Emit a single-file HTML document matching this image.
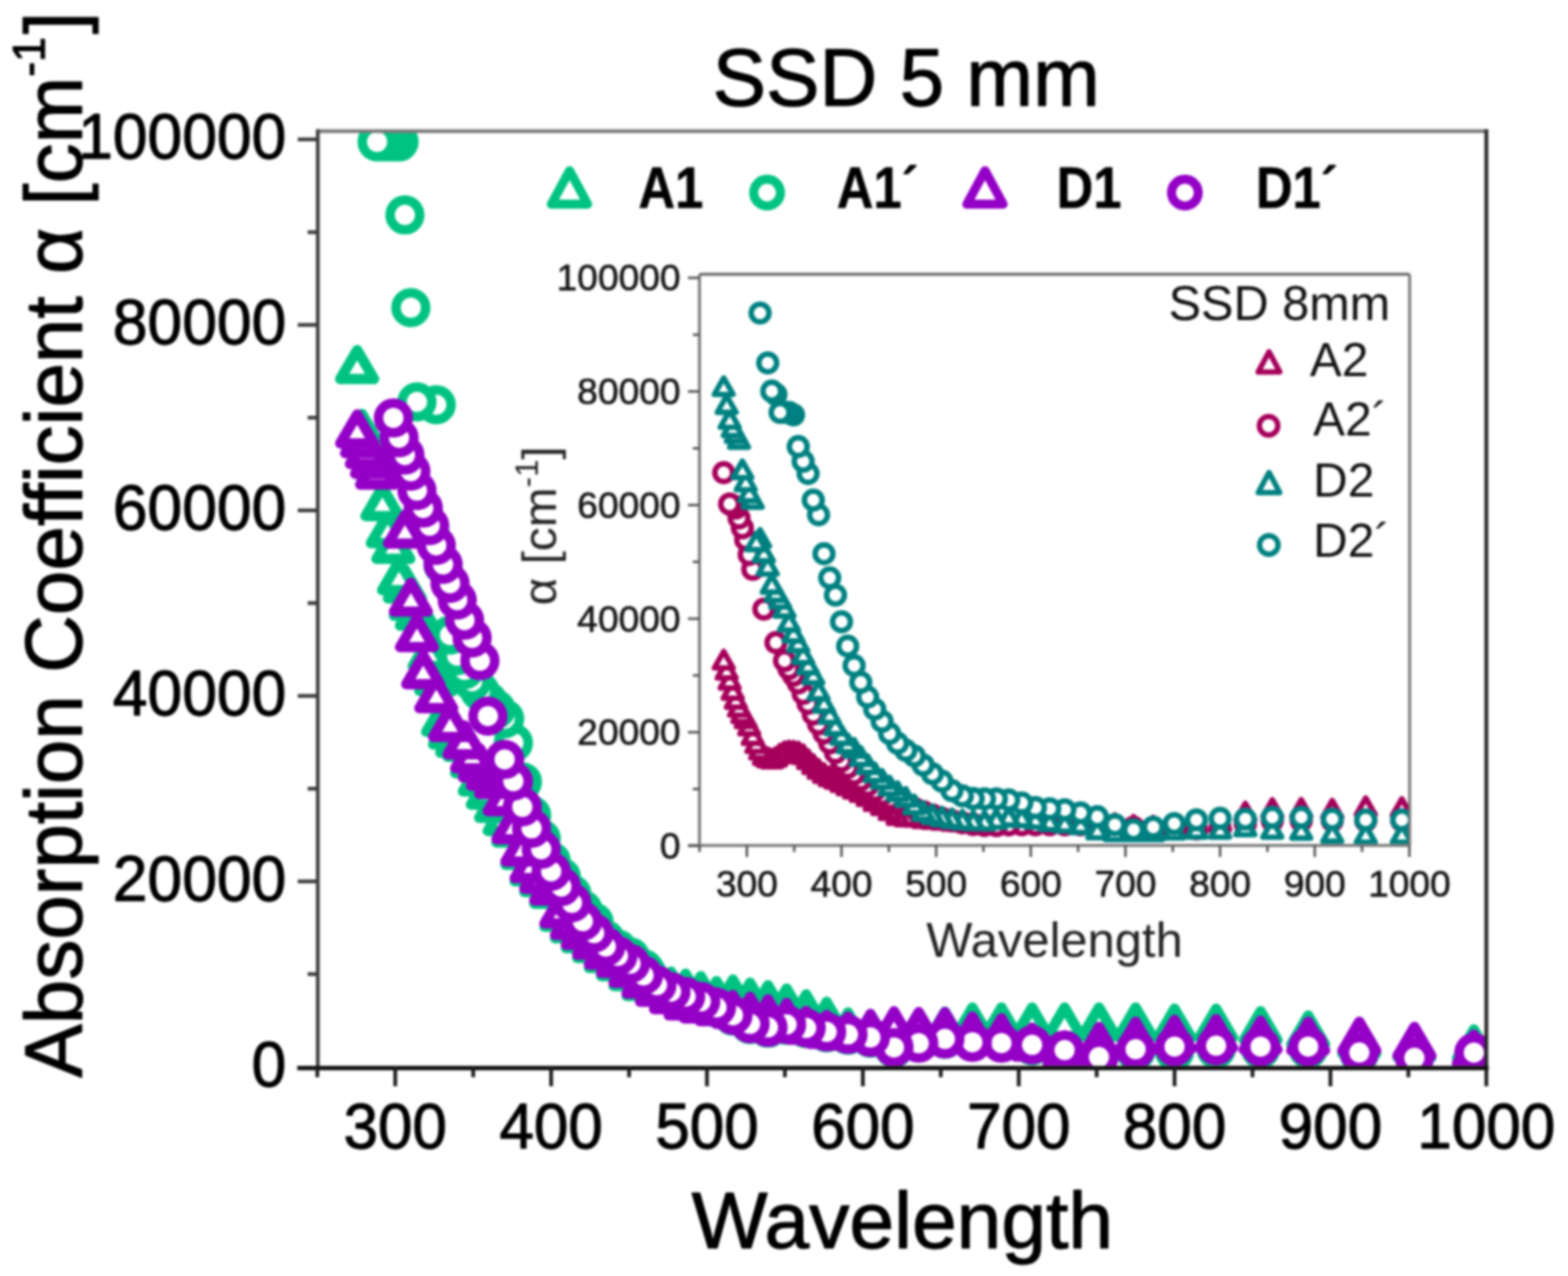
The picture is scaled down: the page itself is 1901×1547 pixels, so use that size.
<!DOCTYPE html>
<html><head><meta charset="utf-8"><title>SSD 5 mm</title><style>html,body{margin:0;padding:0;background:#fff;}body{width:1901px;height:1547px;overflow:hidden;}svg{display:block;filter:blur(1.4px);}</style></head><body>
<svg width="1901" height="1547" viewBox="0 0 1901 1547">
<rect width="1901" height="1547" fill="#fff"/>
<defs><clipPath id="cm"><rect x="386" y="160" width="1414" height="1132"/></clipPath><clipPath id="ci"><rect x="849" y="333.5" width="859" height="690"/></clipPath></defs>
<g clip-path="url(#cm)">
<g fill="#fff" stroke="#00c382" stroke-width="12.5" stroke-linejoin="round"><path d="M1786.9,1248.1L1807.4,1283.1L1766.4,1283.1Z"/><path d="M1714.8,1247.1L1735.3,1282.1L1694.3,1282.1Z"/><path d="M1648.0,1242.5L1668.5,1277.5L1627.5,1277.5Z"/><path d="M1586.0,1231.2L1606.5,1266.2L1565.5,1266.2Z"/><path d="M1528.3,1226.0L1548.8,1261.0L1507.8,1261.0Z"/><path d="M1474.4,1222.9L1494.9,1257.9L1453.9,1257.9Z"/><path d="M1424.0,1222.9L1444.5,1257.9L1403.5,1257.9Z"/><path d="M1376.8,1221.5L1397.3,1256.5L1356.3,1256.5Z"/><path d="M1332.4,1221.5L1352.9,1256.5L1311.9,1256.5Z"/><path d="M1290.7,1221.5L1311.2,1256.5L1270.2,1256.5Z"/><path d="M1251.3,1221.5L1271.8,1256.5L1230.8,1256.5Z"/><path d="M1214.1,1221.5L1234.6,1256.5L1193.6,1256.5Z"/><path d="M1178.9,1221.5L1199.4,1256.5L1158.4,1256.5Z"/><path d="M1145.6,1226.5L1166.1,1261.5L1125.1,1261.5Z"/><path d="M1113.9,1227.5L1134.4,1262.5L1093.4,1262.5Z"/><path d="M1083.9,1228.5L1104.4,1263.5L1063.4,1263.5Z"/><path d="M1055.3,1229.5L1075.8,1264.5L1034.8,1264.5Z"/><path d="M1028.1,1227.5L1048.6,1262.5L1007.6,1262.5Z"/><path d="M1002.2,1214.6L1022.7,1249.6L981.7,1249.6Z"/><path d="M977.4,1205.6L997.9,1240.6L956.9,1240.6Z"/><path d="M953.7,1198.5L974.2,1233.5L933.2,1233.5Z"/><path d="M931.1,1194.5L951.6,1229.5L910.6,1229.5Z"/><path d="M909.4,1191.4L929.9,1226.4L888.9,1226.4Z"/><path d="M888.6,1187.6L909.1,1222.6L868.1,1222.6Z"/><path d="M868.7,1189.5L889.2,1224.5L848.2,1224.5Z"/><path d="M849.6,1183.5L870.1,1218.5L829.1,1218.5Z"/><path d="M831.2,1180.5L851.7,1215.5L810.7,1215.5Z"/><path d="M813.5,1178.0L834.0,1213.0L793.0,1213.0Z"/><path d="M796.5,1166.5L817.0,1201.5L776.0,1201.5Z"/><path d="M780.2,1172.4L800.7,1207.4L759.7,1207.4Z"/><path d="M764.4,1160.4L784.9,1195.4L743.9,1195.4Z"/><path d="M749.2,1148.4L769.7,1183.4L728.7,1183.4Z"/><path d="M734.5,1138.5L755.0,1173.5L714.0,1173.5Z"/><path d="M720.3,1126.5L740.8,1161.5L699.8,1161.5Z"/><path d="M706.6,1114.5L727.1,1149.5L686.1,1149.5Z"/><path d="M693.4,1102.5L713.9,1137.5L672.9,1137.5Z"/><path d="M680.6,1088.5L701.1,1123.5L660.1,1123.5Z"/><path d="M668.2,1060.7L688.7,1095.7L647.7,1095.7Z"/><path d="M656.2,1046.5L676.7,1081.5L635.7,1081.5Z"/><path d="M644.5,1033.6L665.0,1068.6L624.0,1068.6Z"/><path d="M633.3,1013.5L653.8,1048.5L612.8,1048.5Z"/><path d="M622.4,986.4L642.9,1021.4L601.9,1021.4Z"/><path d="M611.8,972.4L632.3,1007.4L591.3,1007.4Z"/><path d="M601.5,956.5L622.0,991.5L581.0,991.5Z"/><path d="M591.5,940.5L612.0,975.5L571.0,975.5Z"/><path d="M581.8,924.5L602.3,959.5L561.3,959.5Z"/><path d="M572.4,902.4L592.9,937.4L551.9,937.4Z"/><path d="M563.2,882.5L583.7,917.5L542.7,917.5Z"/><path d="M554.3,877.5L574.8,912.5L533.8,912.5Z"/><path d="M545.6,867.5L566.1,902.5L525.1,902.5Z"/><path d="M537.2,852.2L557.7,887.2L516.7,887.2Z"/><path d="M528.9,802.7L549.4,837.7L508.4,837.7Z"/><path d="M520.9,772.6L541.4,807.6L500.4,807.6Z"/><path d="M513.1,747.6L533.6,782.6L492.6,782.6Z"/><path d="M505.5,723.5L526.0,758.5L485.0,758.5Z"/><path d="M498.1,711.5L518.6,746.5L477.6,746.5Z"/><path d="M490.9,690.5L511.4,725.5L470.4,725.5Z"/><path d="M483.8,680.5L504.3,715.5L463.3,715.5Z"/><path d="M476.9,642.6L497.4,677.6L456.4,677.6Z"/><path d="M470.2,623.5L490.7,658.5L449.7,658.5Z"/><path d="M463.6,590.7L484.1,625.7L443.1,625.7Z"/><path d="M457.2,542.7L477.7,577.7L436.7,577.7Z"/><path d="M451.0,527.4L471.5,562.4L430.5,562.4Z"/><path d="M444.8,512.6L465.3,547.6L424.3,547.6Z"/><path d="M438.9,501.9L459.4,536.9L418.4,536.9Z"/><path d="M433.0,424.5L453.5,459.5L412.5,459.5Z"/></g>
<g fill="#fff" stroke="#00c382" stroke-width="11.5" stroke-linejoin="round"><circle cx="1786.9" cy="1278.0" r="18.0"/><circle cx="1714.8" cy="1282.0" r="18.0"/><circle cx="1648.0" cy="1278.0" r="18.0"/><circle cx="1586.0" cy="1272.0" r="18.0"/><circle cx="1528.3" cy="1272.0" r="18.0"/><circle cx="1474.4" cy="1272.0" r="18.0"/><circle cx="1424.0" cy="1275.0" r="18.0"/><circle cx="1376.8" cy="1275.0" r="18.0"/><circle cx="1332.4" cy="1280.0" r="18.0"/><circle cx="1290.7" cy="1274.1" r="18.0"/><circle cx="1251.3" cy="1268.0" r="18.0"/><circle cx="1214.1" cy="1264.0" r="18.0"/><circle cx="1178.9" cy="1262.0" r="18.0"/><circle cx="1145.6" cy="1260.0" r="18.0"/><circle cx="1113.9" cy="1262.0" r="18.0"/><circle cx="1083.9" cy="1270.9" r="18.0"/><circle cx="1055.3" cy="1258.8" r="18.0"/><circle cx="1028.1" cy="1255.1" r="18.0"/><circle cx="1002.2" cy="1252.1" r="18.0"/><circle cx="977.4" cy="1247.2" r="18.0"/><circle cx="953.7" cy="1243.1" r="18.0"/><circle cx="931.1" cy="1246.6" r="18.0"/><circle cx="909.4" cy="1242.3" r="18.0"/><circle cx="888.6" cy="1231.9" r="18.0"/><circle cx="868.7" cy="1222.2" r="18.0"/><circle cx="849.6" cy="1215.0" r="18.0"/><circle cx="831.2" cy="1209.2" r="18.0"/><circle cx="813.5" cy="1203.1" r="18.0"/><circle cx="796.5" cy="1195.2" r="18.0"/><circle cx="780.2" cy="1174.4" r="18.0"/><circle cx="764.4" cy="1160.2" r="18.0"/><circle cx="749.2" cy="1150.8" r="18.0"/><circle cx="734.5" cy="1139.5" r="18.0"/><circle cx="720.3" cy="1118.0" r="18.0"/><circle cx="706.6" cy="1102.7" r="18.0"/><circle cx="693.4" cy="1084.0" r="18.0"/><circle cx="680.6" cy="1063.2" r="18.0"/><circle cx="668.2" cy="1043.9" r="18.0"/><circle cx="656.2" cy="1016.8" r="18.0"/><circle cx="644.5" cy="988.3" r="18.0"/><circle cx="633.3" cy="947.9" r="18.0"/><circle cx="622.4" cy="900.7" r="18.0"/><circle cx="611.8" cy="871.4" r="18.0"/><circle cx="601.5" cy="860.0" r="18.0"/><circle cx="591.5" cy="850.0" r="18.0"/><circle cx="581.8" cy="838.0" r="18.0"/><circle cx="572.4" cy="825.9" r="18.0"/><circle cx="563.2" cy="812.0" r="18.0"/><circle cx="554.3" cy="794.9" r="18.0"/><circle cx="545.6" cy="769.9" r="18.0"/><circle cx="537.2" cy="685.3" r="18.0"/><circle cx="528.9" cy="490.7" r="18.0"/><circle cx="520.9" cy="641.1" r="18.0"/><circle cx="513.1" cy="618.3" r="18.0"/><circle cx="505.5" cy="487.2" r="18.0"/><circle cx="498.1" cy="373.0" r="18.0"/><circle cx="490.9" cy="260.6" r="18.0"/><circle cx="483.8" cy="172.1" r="18.0"/><circle cx="476.9" cy="172.0" r="18.0"/><circle cx="470.2" cy="172.0" r="18.0"/><circle cx="463.6" cy="172.0" r="18.0"/><circle cx="457.2" cy="172.0" r="18.0"/></g>
<g fill="#fff" stroke="#9400c6" stroke-width="12.5" stroke-linejoin="round"><path d="M1786.9,1254.4L1807.4,1289.4L1766.4,1289.4Z"/><path d="M1714.8,1245.0L1735.3,1280.0L1694.3,1280.0Z"/><path d="M1648.0,1238.7L1668.5,1273.7L1627.5,1273.7Z"/><path d="M1586.0,1238.7L1606.5,1273.7L1565.5,1273.7Z"/><path d="M1528.3,1237.6L1548.8,1272.6L1507.8,1272.6Z"/><path d="M1474.4,1235.5L1494.9,1270.5L1453.9,1270.5Z"/><path d="M1424.0,1236.5L1444.5,1271.5L1403.5,1271.5Z"/><path d="M1376.8,1238.7L1397.3,1273.7L1356.3,1273.7Z"/><path d="M1332.4,1245.0L1352.9,1280.0L1311.9,1280.0Z"/><path d="M1290.7,1255.5L1311.2,1290.5L1270.2,1290.5Z"/><path d="M1251.3,1245.9L1271.8,1280.9L1230.8,1280.9Z"/><path d="M1214.1,1234.5L1234.6,1269.5L1193.6,1269.5Z"/><path d="M1178.9,1232.4L1199.4,1267.4L1158.4,1267.4Z"/><path d="M1145.6,1227.1L1166.1,1262.1L1125.1,1262.1Z"/><path d="M1113.9,1227.1L1134.4,1262.1L1093.4,1262.1Z"/><path d="M1083.9,1226.1L1104.4,1261.1L1063.4,1261.1Z"/><path d="M1055.3,1229.3L1075.8,1264.3L1034.8,1264.3Z"/><path d="M1028.1,1232.5L1048.6,1267.5L1007.6,1267.5Z"/><path d="M1002.2,1230.5L1022.7,1265.5L981.7,1265.5Z"/><path d="M977.4,1225.6L997.9,1260.6L956.9,1260.6Z"/><path d="M953.7,1215.9L974.2,1250.9L933.2,1250.9Z"/><path d="M931.1,1211.5L951.6,1246.5L910.6,1246.5Z"/><path d="M909.4,1208.6L929.9,1243.6L888.9,1243.6Z"/><path d="M888.6,1206.3L909.1,1241.3L868.1,1241.3Z"/><path d="M868.7,1203.0L889.2,1238.0L848.2,1238.0Z"/><path d="M849.6,1199.7L870.1,1234.7L829.1,1234.7Z"/><path d="M831.2,1196.1L851.7,1231.1L810.7,1231.1Z"/><path d="M813.5,1188.5L834.0,1223.5L793.0,1223.5Z"/><path d="M796.5,1179.5L817.0,1214.5L776.0,1214.5Z"/><path d="M780.2,1169.5L800.7,1204.5L759.7,1204.5Z"/><path d="M764.4,1156.5L784.9,1191.5L743.9,1191.5Z"/><path d="M749.2,1144.6L769.7,1179.6L728.7,1179.6Z"/><path d="M734.5,1134.5L755.0,1169.5L714.0,1169.5Z"/><path d="M720.3,1122.5L740.8,1157.5L699.8,1157.5Z"/><path d="M706.6,1110.5L727.1,1145.5L686.1,1145.5Z"/><path d="M693.4,1098.6L713.9,1133.6L672.9,1133.6Z"/><path d="M680.6,1084.6L701.1,1119.6L660.1,1119.6Z"/><path d="M668.2,1056.7L688.7,1091.7L647.7,1091.7Z"/><path d="M656.2,1042.5L676.7,1077.5L635.7,1077.5Z"/><path d="M644.5,1029.6L665.0,1064.6L624.0,1064.6Z"/><path d="M633.3,1009.5L653.8,1044.5L612.8,1044.5Z"/><path d="M622.4,982.4L642.9,1017.4L601.9,1017.4Z"/><path d="M611.8,948.4L632.3,983.4L591.3,983.4Z"/><path d="M601.5,927.5L622.0,962.5L581.0,962.5Z"/><path d="M591.5,917.5L612.0,952.5L571.0,952.5Z"/><path d="M581.8,907.5L602.3,942.5L561.3,942.5Z"/><path d="M572.4,896.4L592.9,931.4L551.9,931.4Z"/><path d="M563.2,879.5L583.7,914.5L542.7,914.5Z"/><path d="M545.6,858.5L566.1,893.5L525.1,893.5Z"/><path d="M528.9,823.6L549.4,858.6L508.4,858.6Z"/><path d="M513.1,794.5L533.6,829.5L492.6,829.5Z"/><path d="M505.5,749.6L526.0,784.6L485.0,784.6Z"/><path d="M498.1,706.5L518.6,741.5L477.6,741.5Z"/><path d="M490.9,624.1L511.4,659.1L470.4,659.1Z"/><path d="M483.8,542.6L504.3,577.6L463.3,577.6Z"/><path d="M476.9,542.5L497.4,577.5L456.4,577.5Z"/><path d="M470.2,545.5L490.7,580.5L449.7,580.5Z"/><path d="M463.6,547.5L484.1,582.5L443.1,582.5Z"/><path d="M457.2,552.5L477.7,587.5L436.7,587.5Z"/><path d="M451.0,539.4L471.5,574.4L430.5,574.4Z"/><path d="M444.8,527.6L465.3,562.6L424.3,562.6Z"/><path d="M438.9,514.4L459.4,549.4L418.4,549.4Z"/><path d="M433.0,502.5L453.5,537.5L412.5,537.5Z"/></g>
<g fill="#fff" stroke="#9400c6" stroke-width="11.5" stroke-linejoin="round"><circle cx="1786.9" cy="1276.2" r="18.0"/><circle cx="1714.8" cy="1282.6" r="18.0"/><circle cx="1648.0" cy="1276.1" r="18.0"/><circle cx="1586.0" cy="1268.9" r="18.0"/><circle cx="1528.3" cy="1268.9" r="18.0"/><circle cx="1474.4" cy="1267.8" r="18.0"/><circle cx="1424.0" cy="1268.9" r="18.0"/><circle cx="1376.8" cy="1272.1" r="18.0"/><circle cx="1332.4" cy="1281.6" r="18.0"/><circle cx="1290.7" cy="1273.1" r="18.0"/><circle cx="1251.3" cy="1266.8" r="18.0"/><circle cx="1214.1" cy="1264.7" r="18.0"/><circle cx="1178.9" cy="1263.7" r="18.0"/><circle cx="1145.6" cy="1259.6" r="18.0"/><circle cx="1113.9" cy="1264.8" r="18.0"/><circle cx="1083.9" cy="1269.9" r="18.0"/><circle cx="1055.3" cy="1257.8" r="18.0"/><circle cx="1028.1" cy="1254.1" r="18.0"/><circle cx="1002.2" cy="1251.1" r="18.0"/><circle cx="977.4" cy="1246.3" r="18.0"/><circle cx="953.7" cy="1242.1" r="18.0"/><circle cx="931.1" cy="1245.6" r="18.0"/><circle cx="909.4" cy="1241.3" r="18.0"/><circle cx="888.6" cy="1230.9" r="18.0"/><circle cx="868.7" cy="1221.3" r="18.0"/><circle cx="849.6" cy="1214.0" r="18.0"/><circle cx="831.2" cy="1208.2" r="18.0"/><circle cx="813.5" cy="1202.2" r="18.0"/><circle cx="796.5" cy="1194.3" r="18.0"/><circle cx="780.2" cy="1182.5" r="18.0"/><circle cx="764.4" cy="1168.3" r="18.0"/><circle cx="749.2" cy="1158.8" r="18.0"/><circle cx="734.5" cy="1147.6" r="18.0"/><circle cx="720.3" cy="1131.3" r="18.0"/><circle cx="706.6" cy="1116.8" r="18.0"/><circle cx="693.4" cy="1094.5" r="18.0"/><circle cx="680.6" cy="1074.9" r="18.0"/><circle cx="668.2" cy="1056.4" r="18.0"/><circle cx="656.2" cy="1029.7" r="18.0"/><circle cx="644.5" cy="1004.3" r="18.0"/><circle cx="633.3" cy="978.3" r="18.0"/><circle cx="622.4" cy="947.0" r="18.0"/><circle cx="611.8" cy="920.7" r="18.0"/><circle cx="591.5" cy="868.2" r="18.0"/><circle cx="581.8" cy="801.1" r="18.0"/><circle cx="572.4" cy="773.4" r="18.0"/><circle cx="563.2" cy="751.9" r="18.0"/><circle cx="554.3" cy="727.5" r="18.0"/><circle cx="545.6" cy="707.2" r="18.0"/><circle cx="537.2" cy="684.3" r="18.0"/><circle cx="528.9" cy="661.2" r="18.0"/><circle cx="520.9" cy="637.3" r="18.0"/><circle cx="513.1" cy="615.9" r="18.0"/><circle cx="505.5" cy="594.8" r="18.0"/><circle cx="498.1" cy="571.3" r="18.0"/><circle cx="490.9" cy="551.7" r="18.0"/><circle cx="483.8" cy="530.7" r="18.0"/><circle cx="476.9" cy="506.7" r="18.0"/></g>
</g>
<g fill="none" stroke-linecap="square">
<line x1="385.3" y1="159" x2="1802" y2="159" stroke="#7a7a7a" stroke-width="4.5"/>
<line x1="1802" y1="159" x2="1802" y2="1294.8" stroke="#262626" stroke-width="4.6"/>
<line x1="385.3" y1="159" x2="385.3" y2="1294.8" stroke="#404040" stroke-width="4.6"/>
<line x1="363" y1="1294.8" x2="1802" y2="1294.8" stroke="#0a0a0a" stroke-width="5.2"/>
</g>
<g stroke="#3a3a3a" stroke-width="4.5"><line x1="373" y1="1181.0" x2="385" y2="1181.0"/><line x1="361" y1="1068.6" x2="385" y2="1068.6"/><line x1="373" y1="956.2" x2="385" y2="956.2"/><line x1="361" y1="843.7" x2="385" y2="843.7"/><line x1="373" y1="731.2" x2="385" y2="731.2"/><line x1="361" y1="618.8" x2="385" y2="618.8"/><line x1="373" y1="506.4" x2="385" y2="506.4"/><line x1="361" y1="393.9" x2="385" y2="393.9"/><line x1="373" y1="281.5" x2="385" y2="281.5"/><line x1="361" y1="169.0" x2="385" y2="169.0"/></g>
<g stroke="#1a1a1a" stroke-width="4.5"><line x1="384.7" y1="1294" x2="384.7" y2="1306"/><line x1="479.2" y1="1294" x2="479.2" y2="1317"/><line x1="573.7" y1="1294" x2="573.7" y2="1306"/><line x1="668.2" y1="1294" x2="668.2" y2="1317"/><line x1="762.7" y1="1294" x2="762.7" y2="1306"/><line x1="857.1" y1="1294" x2="857.1" y2="1317"/><line x1="951.6" y1="1294" x2="951.6" y2="1306"/><line x1="1046.1" y1="1294" x2="1046.1" y2="1317"/><line x1="1140.6" y1="1294" x2="1140.6" y2="1306"/><line x1="1235.1" y1="1294" x2="1235.1" y2="1317"/><line x1="1329.6" y1="1294" x2="1329.6" y2="1306"/><line x1="1424.0" y1="1294" x2="1424.0" y2="1317"/><line x1="1518.5" y1="1294" x2="1518.5" y2="1306"/><line x1="1613.0" y1="1294" x2="1613.0" y2="1317"/><line x1="1707.5" y1="1294" x2="1707.5" y2="1306"/><line x1="1802.0" y1="1294" x2="1802.0" y2="1317"/></g>
<g font-family='"Liberation Sans", Arial, Helvetica, sans-serif' stroke="#000" stroke-width="1.3" stroke-linejoin="round">
<text transform="translate(347.0,1316.5) scale(0.964,1)" text-anchor="end" font-size="78.4" fill="#000">0</text>
<text transform="translate(347.0,1091.6) scale(0.964,1)" text-anchor="end" font-size="78.4" fill="#000">20000</text>
<text transform="translate(347.0,866.7) scale(0.964,1)" text-anchor="end" font-size="78.4" fill="#000">40000</text>
<text transform="translate(347.0,641.8) scale(0.964,1)" text-anchor="end" font-size="78.4" fill="#000">60000</text>
<text transform="translate(347.0,416.9) scale(0.964,1)" text-anchor="end" font-size="78.4" fill="#000">80000</text>
<text transform="translate(347.0,192.0) scale(0.964,1)" text-anchor="end" font-size="78.4" fill="#000">100000</text>
<text transform="translate(479.2,1391.5) scale(0.964,1)" text-anchor="middle" font-size="78.0" fill="#000">300</text>
<text transform="translate(668.2,1391.5) scale(0.964,1)" text-anchor="middle" font-size="78.0" fill="#000">400</text>
<text transform="translate(857.1,1391.5) scale(0.964,1)" text-anchor="middle" font-size="78.0" fill="#000">500</text>
<text transform="translate(1046.1,1391.5) scale(0.964,1)" text-anchor="middle" font-size="78.0" fill="#000">600</text>
<text transform="translate(1235.1,1391.5) scale(0.964,1)" text-anchor="middle" font-size="78.0" fill="#000">700</text>
<text transform="translate(1424.0,1391.5) scale(0.964,1)" text-anchor="middle" font-size="78.0" fill="#000">800</text>
<text transform="translate(1613.0,1391.5) scale(0.964,1)" text-anchor="middle" font-size="78.0" fill="#000">900</text>
<text transform="translate(1802.0,1391.5) scale(0.964,1)" text-anchor="middle" font-size="78.0" fill="#000">1000</text>
<text transform="translate(1098.7,128.0) scale(0.981,1)" text-anchor="middle" font-size="99" fill="#000">SSD 5 mm</text>
<text transform="translate(1094.0,1513.0) scale(1.005,1)" text-anchor="middle" font-size="97" fill="#000">Wavelength</text>
<text transform="translate(98.5,1306.5) rotate(-90) scale(0.98,1)" font-size="99">Absorption Coefficient α [cm<tspan dy="-45" font-size="55">-1</tspan><tspan dy="45" dx="4">]</tspan></text>
</g>
<g fill="#fff" stroke-width="11" stroke-linejoin="round"><path d="M690.5,206.9L712.5,247.5L668.5,247.5Z" stroke="#00c382"/><circle cx="930" cy="233.5" r="16.2" stroke="#00c382"/><path d="M1194.2,206.9L1216.2,247.5L1172.2,247.5Z" stroke="#9400c6"/><circle cx="1436.5" cy="233.5" r="16.2" stroke="#9400c6"/></g>
<g font-family='"Liberation Sans", Arial, Helvetica, sans-serif' stroke="#000" stroke-width="0.6" stroke-linejoin="round">
<text transform="translate(774.0,252.0) scale(0.885,1)" text-anchor="start" font-size="69.5" font-weight="bold" fill="#000">A1</text>
<text transform="translate(1014.5,252.0) scale(0.885,1)" text-anchor="start" font-size="69.5" font-weight="bold" fill="#000">A1´</text>
<text transform="translate(1281.0,252.0) scale(0.885,1)" text-anchor="start" font-size="69.5" font-weight="bold" fill="#000">D1</text>
<text transform="translate(1522.7,252.0) scale(0.885,1)" text-anchor="start" font-size="69.5" font-weight="bold" fill="#000">D1´</text>
</g>
<rect x="848" y="332.5" width="861" height="692.5" fill="#fff"/>
<g clip-path="url(#ci)">
<g fill="#fff" stroke="#a5005a" stroke-width="6.6" stroke-linejoin="round"><path d="M1699.5,968.5L1710.9,988.5L1688.1,988.5Z"/><path d="M1655.8,967.5L1667.2,987.5L1644.4,987.5Z"/><path d="M1615.2,970.5L1626.6,990.5L1603.8,990.5Z"/><path d="M1577.6,969.5L1589.0,989.5L1566.2,989.5Z"/><path d="M1542.5,969.6L1553.9,989.6L1531.1,989.6Z"/><path d="M1509.8,974.0L1521.2,994.0L1498.4,994.0Z"/><path d="M1479.2,986.0L1490.6,1006.0L1467.8,1006.0Z"/><path d="M1450.5,989.0L1461.9,1009.0L1439.1,1009.0Z"/><path d="M1423.6,991.0L1435.0,1011.0L1412.2,1011.0Z"/><path d="M1398.2,991.0L1409.6,1011.0L1386.8,1011.0Z"/><path d="M1374.3,990.0L1385.7,1010.0L1362.9,1010.0Z"/><path d="M1351.7,988.0L1363.1,1008.0L1340.3,1008.0Z"/><path d="M1330.4,981.0L1341.8,1001.0L1319.0,1001.0Z"/><path d="M1310.1,982.0L1321.5,1002.0L1298.7,1002.0Z"/><path d="M1290.9,983.0L1302.3,1003.0L1279.5,1003.0Z"/><path d="M1272.7,984.0L1284.1,1004.0L1261.3,1004.0Z"/><path d="M1255.3,985.0L1266.7,1005.0L1243.9,1005.0Z"/><path d="M1238.8,986.1L1250.2,1006.1L1227.4,1006.1Z"/><path d="M1223.0,987.1L1234.4,1007.1L1211.6,1007.1Z"/><path d="M1208.0,988.0L1219.4,1008.0L1196.6,1008.0Z"/><path d="M1193.6,987.8L1205.0,1007.8L1182.2,1007.8Z"/><path d="M1179.9,986.8L1191.3,1006.8L1168.5,1006.8Z"/><path d="M1166.7,985.9L1178.1,1005.9L1155.3,1005.9Z"/><path d="M1154.1,985.1L1165.5,1005.1L1142.7,1005.1Z"/><path d="M1142.0,984.0L1153.4,1004.0L1130.6,1004.0Z"/><path d="M1130.4,983.0L1141.8,1003.0L1119.0,1003.0Z"/><path d="M1119.2,982.0L1130.6,1002.0L1107.8,1002.0Z"/><path d="M1108.5,980.1L1119.9,1000.1L1097.1,1000.1Z"/><path d="M1098.2,980.0L1109.6,1000.0L1086.8,1000.0Z"/><path d="M1088.2,978.1L1099.6,998.1L1076.8,998.1Z"/><path d="M1078.6,972.2L1090.0,992.2L1067.2,992.2Z"/><path d="M1069.4,966.2L1080.8,986.2L1058.0,986.2Z"/><path d="M1060.5,961.2L1071.9,981.2L1049.1,981.2Z"/><path d="M1051.9,955.3L1063.3,975.3L1040.5,975.3Z"/><path d="M1043.6,950.3L1055.0,970.3L1032.2,970.3Z"/><path d="M1035.5,946.2L1046.9,966.2L1024.1,966.2Z"/><path d="M1027.7,942.2L1039.1,962.2L1016.3,962.2Z"/><path d="M1020.2,938.2L1031.6,958.2L1008.8,958.2Z"/><path d="M1012.9,934.2L1024.3,954.2L1001.5,954.2Z"/><path d="M1005.9,931.2L1017.3,951.2L994.5,951.2Z"/><path d="M999.0,927.3L1010.4,947.3L987.6,947.3Z"/><path d="M992.4,922.3L1003.8,942.3L981.0,942.3Z"/><path d="M986.0,916.4L997.4,936.4L974.6,936.4Z"/><path d="M979.7,910.4L991.1,930.4L968.3,930.4Z"/><path d="M973.7,904.5L985.1,924.5L962.3,924.5Z"/><path d="M967.8,901.2L979.2,921.2L956.4,921.2Z"/><path d="M962.0,900.1L973.4,920.1L950.6,920.1Z"/><path d="M956.5,900.0L967.9,920.0L945.1,920.0Z"/><path d="M951.1,900.9L962.5,920.9L939.7,920.9Z"/><path d="M945.8,903.7L957.2,923.7L934.4,923.7Z"/><path d="M940.7,907.6L952.1,927.6L929.3,927.6Z"/><path d="M935.7,909.8L947.1,929.8L924.3,929.8Z"/><path d="M930.8,908.2L942.2,928.2L919.4,928.2Z"/><path d="M926.1,905.4L937.5,925.4L914.7,925.4Z"/><path d="M921.5,898.8L932.9,918.8L910.1,918.8Z"/><path d="M917.0,891.0L928.4,911.0L905.6,911.0Z"/><path d="M912.6,881.3L924.0,901.3L901.2,901.3Z"/><path d="M908.3,869.6L919.7,889.6L896.9,889.6Z"/><path d="M904.1,861.0L915.5,881.0L892.7,881.0Z"/><path d="M900.0,854.7L911.4,874.7L888.6,874.7Z"/><path d="M896.0,847.0L907.4,867.0L884.6,867.0Z"/><path d="M892.1,837.4L903.5,857.4L880.7,857.4Z"/><path d="M888.3,826.5L899.7,846.5L876.9,846.5Z"/><path d="M884.6,814.1L896.0,834.1L873.2,834.1Z"/><path d="M881.0,801.9L892.4,821.9L869.6,821.9Z"/><path d="M877.4,789.8L888.8,809.8L866.0,809.8Z"/></g>
<g fill="#fff" stroke="#a5005a" stroke-width="6.6" stroke-linejoin="round"><circle cx="1699.5" cy="995.0" r="10.8"/><circle cx="1655.8" cy="995.0" r="10.8"/><circle cx="1615.2" cy="995.0" r="10.8"/><circle cx="1577.6" cy="995.0" r="10.8"/><circle cx="1542.5" cy="995.1" r="10.8"/><circle cx="1509.8" cy="999.0" r="10.8"/><circle cx="1479.2" cy="1004.0" r="10.8"/><circle cx="1450.5" cy="1005.0" r="10.8"/><circle cx="1423.6" cy="1005.0" r="10.8"/><circle cx="1398.2" cy="1004.0" r="10.8"/><circle cx="1374.3" cy="1003.0" r="10.8"/><circle cx="1351.7" cy="1002.0" r="10.8"/><circle cx="1330.4" cy="1000.0" r="10.8"/><circle cx="1310.1" cy="1000.0" r="10.8"/><circle cx="1290.9" cy="1000.0" r="10.8"/><circle cx="1272.7" cy="1000.0" r="10.8"/><circle cx="1255.3" cy="1000.0" r="10.8"/><circle cx="1238.8" cy="1000.0" r="10.8"/><circle cx="1223.0" cy="1000.1" r="10.8"/><circle cx="1208.0" cy="1001.0" r="10.8"/><circle cx="1193.6" cy="1000.8" r="10.8"/><circle cx="1179.9" cy="999.7" r="10.8"/><circle cx="1166.7" cy="997.6" r="10.8"/><circle cx="1154.1" cy="995.2" r="10.8"/><circle cx="1142.0" cy="992.0" r="10.8"/><circle cx="1130.4" cy="988.1" r="10.8"/><circle cx="1119.2" cy="984.1" r="10.8"/><circle cx="1108.5" cy="980.2" r="10.8"/><circle cx="1098.2" cy="976.1" r="10.8"/><circle cx="1088.2" cy="972.1" r="10.8"/><circle cx="1078.6" cy="968.3" r="10.8"/><circle cx="1069.4" cy="963.2" r="10.8"/><circle cx="1060.5" cy="958.3" r="10.8"/><circle cx="1051.9" cy="952.3" r="10.8"/><circle cx="1043.6" cy="945.5" r="10.8"/><circle cx="1035.5" cy="938.4" r="10.8"/><circle cx="1027.7" cy="930.5" r="10.8"/><circle cx="1020.2" cy="922.5" r="10.8"/><circle cx="1012.9" cy="912.6" r="10.8"/><circle cx="1005.9" cy="900.8" r="10.8"/><circle cx="999.0" cy="888.8" r="10.8"/><circle cx="992.4" cy="877.7" r="10.8"/><circle cx="986.0" cy="865.9" r="10.8"/><circle cx="979.7" cy="852.9" r="10.8"/><circle cx="973.7" cy="840.9" r="10.8"/><circle cx="967.8" cy="828.0" r="10.8"/><circle cx="962.0" cy="818.7" r="10.8"/><circle cx="956.5" cy="810.8" r="10.8"/><circle cx="951.1" cy="801.0" r="10.8"/><circle cx="940.7" cy="779.1" r="10.8"/><circle cx="926.1" cy="738.5" r="10.8"/><circle cx="912.6" cy="690.2" r="10.8"/><circle cx="908.3" cy="672.4" r="10.8"/><circle cx="904.1" cy="654.2" r="10.8"/><circle cx="900.0" cy="640.0" r="10.8"/><circle cx="896.0" cy="628.1" r="10.8"/><circle cx="892.1" cy="616.1" r="10.8"/><circle cx="888.3" cy="613.0" r="10.8"/><circle cx="884.6" cy="611.0" r="10.8"/><circle cx="877.4" cy="573.1" r="10.8"/></g>
<g fill="#fff" stroke="#008080" stroke-width="6.6" stroke-linejoin="round"><path d="M1699.5,1001.0L1710.9,1021.0L1688.1,1021.0Z"/><path d="M1655.8,1001.0L1667.2,1021.0L1644.4,1021.0Z"/><path d="M1615.2,999.9L1626.6,1019.9L1603.8,1019.9Z"/><path d="M1577.6,996.1L1589.0,1016.1L1566.2,1016.1Z"/><path d="M1542.5,995.0L1553.9,1015.0L1531.1,1015.0Z"/><path d="M1509.8,992.0L1521.2,1012.0L1498.4,1012.0Z"/><path d="M1479.2,995.0L1490.6,1015.0L1467.8,1015.0Z"/><path d="M1450.5,995.0L1461.9,1015.0L1439.1,1015.0Z"/><path d="M1423.6,996.0L1435.0,1016.0L1412.2,1016.0Z"/><path d="M1398.2,997.9L1409.6,1017.9L1386.8,1017.9Z"/><path d="M1374.3,998.0L1385.7,1018.0L1362.9,1018.0Z"/><path d="M1351.7,998.0L1363.1,1018.0L1340.3,1018.0Z"/><path d="M1330.4,995.8L1341.8,1015.8L1319.0,1015.8Z"/><path d="M1310.1,989.4L1321.5,1009.4L1298.7,1009.4Z"/><path d="M1290.9,987.5L1302.3,1007.5L1279.5,1007.5Z"/><path d="M1272.7,985.8L1284.1,1005.8L1261.3,1005.8Z"/><path d="M1255.3,982.8L1266.7,1002.8L1243.9,1002.8Z"/><path d="M1238.8,981.0L1250.2,1001.0L1227.4,1001.0Z"/><path d="M1223.0,980.0L1234.4,1000.0L1211.6,1000.0Z"/><path d="M1208.0,983.0L1219.4,1003.0L1196.6,1003.0Z"/><path d="M1193.6,985.0L1205.0,1005.0L1182.2,1005.0Z"/><path d="M1179.9,984.8L1191.3,1004.8L1168.5,1004.8Z"/><path d="M1166.7,983.7L1178.1,1003.7L1155.3,1003.7Z"/><path d="M1154.1,982.1L1165.5,1002.1L1142.7,1002.1Z"/><path d="M1142.0,980.0L1153.4,1000.0L1130.6,1000.0Z"/><path d="M1130.4,977.1L1141.8,997.1L1119.0,997.1Z"/><path d="M1119.2,973.1L1130.6,993.1L1107.8,993.1Z"/><path d="M1108.5,965.4L1119.9,985.4L1097.1,985.4Z"/><path d="M1098.2,956.2L1109.6,976.2L1086.8,976.2Z"/><path d="M1088.2,949.2L1099.6,969.2L1076.8,969.2Z"/><path d="M1078.6,942.5L1090.0,962.5L1067.2,962.5Z"/><path d="M1069.4,934.4L1080.8,954.4L1058.0,954.4Z"/><path d="M1060.5,926.4L1071.9,946.4L1049.1,946.4Z"/><path d="M1051.9,916.4L1063.3,936.4L1040.5,936.4Z"/><path d="M1043.6,906.7L1055.0,926.7L1032.2,926.7Z"/><path d="M1035.5,896.7L1046.9,916.7L1024.1,916.7Z"/><path d="M1027.7,891.2L1039.1,911.2L1016.3,911.2Z"/><path d="M1020.2,881.1L1031.6,901.1L1008.8,901.1Z"/><path d="M1012.9,869.6L1024.3,889.6L1001.5,889.6Z"/><path d="M1005.9,855.8L1017.3,875.8L994.5,875.8Z"/><path d="M999.0,842.1L1010.4,862.1L987.6,862.1Z"/><path d="M992.4,827.1L1003.8,847.1L981.0,847.1Z"/><path d="M986.0,807.8L997.4,827.8L974.6,827.8Z"/><path d="M979.7,795.8L991.1,815.8L968.3,815.8Z"/><path d="M973.7,783.3L985.1,803.3L962.3,803.3Z"/><path d="M967.8,768.9L979.2,788.9L956.4,788.9Z"/><path d="M962.0,757.1L973.4,777.1L950.6,777.1Z"/><path d="M956.5,743.9L967.9,763.9L945.1,763.9Z"/><path d="M951.1,726.9L962.5,746.9L939.7,746.9Z"/><path d="M945.8,716.0L957.2,736.0L934.4,736.0Z"/><path d="M940.7,707.9L952.1,727.9L929.3,727.9Z"/><path d="M935.7,697.9L947.1,717.9L924.3,717.9Z"/><path d="M930.8,676.0L942.2,696.0L919.4,696.0Z"/><path d="M926.1,659.9L937.5,679.9L914.7,679.9Z"/><path d="M921.5,642.1L932.9,662.1L910.1,662.1Z"/><path d="M917.0,646.4L928.4,666.4L905.6,666.4Z"/><path d="M912.6,594.9L924.0,614.9L901.2,614.9Z"/><path d="M908.3,587.1L919.7,607.1L896.9,607.1Z"/><path d="M904.1,573.7L915.5,593.7L892.7,593.7Z"/><path d="M900.0,559.0L911.4,579.0L888.6,579.0Z"/><path d="M896.0,522.2L907.4,542.2L884.6,542.2Z"/><path d="M892.1,515.1L903.5,535.1L880.7,535.1Z"/><path d="M888.3,508.1L899.7,528.1L876.9,528.1Z"/><path d="M884.6,498.0L896.0,518.0L873.2,518.0Z"/><path d="M881.0,479.9L892.4,499.9L869.6,499.9Z"/><path d="M877.4,458.2L888.8,478.2L866.0,478.2Z"/></g>
<g fill="#fff" stroke="#008080" stroke-width="6.6" stroke-linejoin="round"><circle cx="1699.5" cy="994.0" r="10.8"/><circle cx="1655.8" cy="994.0" r="10.8"/><circle cx="1615.2" cy="993.0" r="10.8"/><circle cx="1577.6" cy="990.8" r="10.8"/><circle cx="1542.5" cy="990.8" r="10.8"/><circle cx="1509.8" cy="993.0" r="10.8"/><circle cx="1479.2" cy="992.1" r="10.8"/><circle cx="1450.5" cy="994.0" r="10.8"/><circle cx="1423.6" cy="998.5" r="10.8"/><circle cx="1398.2" cy="1002.8" r="10.8"/><circle cx="1374.3" cy="1006.0" r="10.8"/><circle cx="1351.7" cy="999.9" r="10.8"/><circle cx="1330.4" cy="990.2" r="10.8"/><circle cx="1310.1" cy="985.5" r="10.8"/><circle cx="1290.9" cy="981.8" r="10.8"/><circle cx="1272.7" cy="980.5" r="10.8"/><circle cx="1255.3" cy="979.1" r="10.8"/><circle cx="1238.8" cy="973.6" r="10.8"/><circle cx="1223.0" cy="969.9" r="10.8"/><circle cx="1208.0" cy="968.6" r="10.8"/><circle cx="1193.6" cy="968.6" r="10.8"/><circle cx="1179.9" cy="968.2" r="10.8"/><circle cx="1166.7" cy="964.9" r="10.8"/><circle cx="1154.1" cy="958.6" r="10.8"/><circle cx="1142.0" cy="947.1" r="10.8"/><circle cx="1130.4" cy="938.0" r="10.8"/><circle cx="1119.2" cy="927.5" r="10.8"/><circle cx="1108.5" cy="916.5" r="10.8"/><circle cx="1098.2" cy="909.7" r="10.8"/><circle cx="1088.2" cy="901.1" r="10.8"/><circle cx="1078.6" cy="889.4" r="10.8"/><circle cx="1069.4" cy="874.5" r="10.8"/><circle cx="1060.5" cy="859.8" r="10.8"/><circle cx="1051.9" cy="845.1" r="10.8"/><circle cx="1043.6" cy="827.3" r="10.8"/><circle cx="1035.5" cy="806.9" r="10.8"/><circle cx="1027.7" cy="783.4" r="10.8"/><circle cx="1020.2" cy="753.8" r="10.8"/><circle cx="1012.9" cy="721.5" r="10.8"/><circle cx="1005.9" cy="700.6" r="10.8"/><circle cx="999.0" cy="671.4" r="10.8"/><circle cx="992.4" cy="624.1" r="10.8"/><circle cx="986.0" cy="606.3" r="10.8"/><circle cx="979.7" cy="574.1" r="10.8"/><circle cx="973.7" cy="559.2" r="10.8"/><circle cx="967.8" cy="541.4" r="10.8"/><circle cx="962.0" cy="503.0" r="10.8"/><circle cx="956.5" cy="500.0" r="10.8"/><circle cx="951.1" cy="500.0" r="10.8"/><circle cx="945.8" cy="500.0" r="10.8"/><circle cx="940.7" cy="478.2" r="10.8"/><circle cx="935.7" cy="474.2" r="10.8"/><circle cx="930.8" cy="440.0" r="10.8"/><circle cx="921.5" cy="379.5" r="10.8"/></g>
</g>
<g fill="none">
<line x1="848" y1="332.5" x2="1709" y2="332.5" stroke="#666" stroke-width="3.5"/>
<line x1="1709" y1="332.5" x2="1709" y2="1025" stroke="#777" stroke-width="3.5"/>
<line x1="848" y1="332.5" x2="848" y2="1025" stroke="#777" stroke-width="3.5"/>
<line x1="834" y1="1025" x2="1709" y2="1025" stroke="#777" stroke-width="3.5"/>
</g>
<g stroke="#555" stroke-width="3"><line x1="834" y1="1025.5" x2="848" y2="1025.5"/><line x1="840" y1="956.6" x2="848" y2="956.6"/><line x1="834" y1="887.8" x2="848" y2="887.8"/><line x1="840" y1="818.9" x2="848" y2="818.9"/><line x1="834" y1="750.1" x2="848" y2="750.1"/><line x1="840" y1="681.2" x2="848" y2="681.2"/><line x1="834" y1="612.3" x2="848" y2="612.3"/><line x1="840" y1="543.5" x2="848" y2="543.5"/><line x1="834" y1="474.6" x2="848" y2="474.6"/><line x1="840" y1="405.8" x2="848" y2="405.8"/><line x1="834" y1="336.9" x2="848" y2="336.9"/><line x1="848.1" y1="1025" x2="848.1" y2="1033"/><line x1="905.5" y1="1025" x2="905.5" y2="1039"/><line x1="962.9" y1="1025" x2="962.9" y2="1033"/><line x1="1020.2" y1="1025" x2="1020.2" y2="1039"/><line x1="1077.6" y1="1025" x2="1077.6" y2="1033"/><line x1="1135.0" y1="1025" x2="1135.0" y2="1039"/><line x1="1192.3" y1="1025" x2="1192.3" y2="1033"/><line x1="1249.7" y1="1025" x2="1249.7" y2="1039"/><line x1="1307.1" y1="1025" x2="1307.1" y2="1033"/><line x1="1364.5" y1="1025" x2="1364.5" y2="1039"/><line x1="1421.8" y1="1025" x2="1421.8" y2="1033"/><line x1="1479.2" y1="1025" x2="1479.2" y2="1039"/><line x1="1536.6" y1="1025" x2="1536.6" y2="1033"/><line x1="1594.0" y1="1025" x2="1594.0" y2="1039"/><line x1="1651.3" y1="1025" x2="1651.3" y2="1033"/><line x1="1708.7" y1="1025" x2="1708.7" y2="1039"/></g>
<g font-family='"Liberation Sans", Arial, Helvetica, sans-serif' font-size="45" fill="#141414" stroke="#141414" stroke-width="0.7">
<text x="825" y="1041.0" text-anchor="end">0</text>
<text x="825" y="903.3" text-anchor="end">20000</text>
<text x="825" y="765.6" text-anchor="end">40000</text>
<text x="825" y="627.8" text-anchor="end">60000</text>
<text x="825" y="490.1" text-anchor="end">80000</text>
<text x="825" y="352.4" text-anchor="end">100000</text>
<text x="905.5" y="1087" text-anchor="middle">300</text>
<text x="1020.2" y="1087" text-anchor="middle">400</text>
<text x="1135.0" y="1087" text-anchor="middle">500</text>
<text x="1249.7" y="1087" text-anchor="middle">600</text>
<text x="1364.5" y="1087" text-anchor="middle">700</text>
<text x="1479.2" y="1087" text-anchor="middle">800</text>
<text x="1594.0" y="1087" text-anchor="middle">900</text>
<text x="1708.7" y="1087" text-anchor="middle">1000</text>
</g>
<text x="1278.5" y="1160" text-anchor="middle" font-family='"Liberation Sans", Arial, Helvetica, sans-serif' font-size="59.3" fill="#222">Wavelength</text>
<text transform="translate(673.5,734) rotate(-90)" font-family='"Liberation Sans", Arial, Helvetica, sans-serif' font-size="58" fill="#222">α [cm<tspan dy="-22" font-size="38">-1</tspan><tspan dy="22">]</tspan></text>
<g font-family='"Liberation Sans", Arial, Helvetica, sans-serif' font-size="58" fill="#111"><text x="1685.5" y="388" text-anchor="end" font-size="59">SSD 8mm</text><text x="1588" y="455.5">A2</text><text x="1592" y="528">A2´</text><text x="1592" y="601.5">D2</text><text x="1592" y="675">D2´</text></g>
<g fill="#fff" stroke-width="6.5" stroke-linejoin="round"><path d="M1538.5,426.5L1551.6,450.9L1525.4,450.9Z" stroke="#a5005a"/><circle cx="1538" cy="516.2" r="11.2" stroke="#a5005a"/><path d="M1538.5,572.8L1551.6,597.2L1525.4,597.2Z" stroke="#008080"/><circle cx="1538.3" cy="660.7" r="11.2" stroke="#008080"/></g>
</svg>
</body></html>
